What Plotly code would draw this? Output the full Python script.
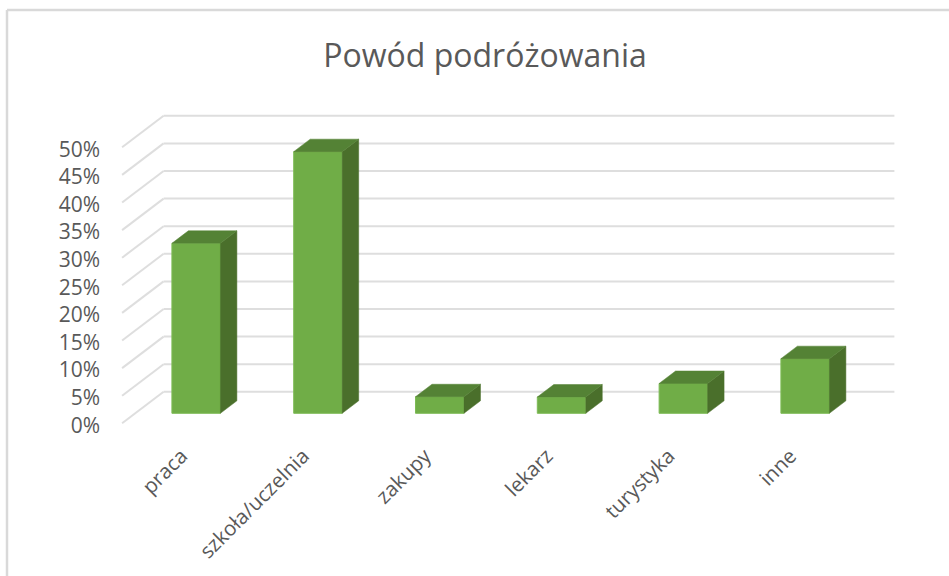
import plotly.graph_objects as go

# --- data -----------------------------------------------------------------
categories = ["praca", "szkoła/uczelnia", "zakupy", "lekarz", "turystyka", "inne"]
values = [30.8, 47.4, 3.0, 2.95, 5.4, 9.9]
y_ticks = [0, 5, 10, 15, 20, 25, 30, 35, 40, 45, 50]
y_labels = ["0%", "5%", "10%", "15%", "20%", "25%", "30%", "35%", "40%", "45%", "50%"]
title_text = "Powód podróżowania"

# --- oblique projection, in axis units ------------------------------------
FRONT = "#70AD47"
SIDE = "#4A6F2B"
TOP = "#548235"
GRID = "#DEDEDE"
TEXT = "#595959"
FONT = "Open Sans"

W, H = 949, 576
L, R, T, B = 104, 900, 100, 439      # plot area in page pixels
X0_PX, X_STEP = 183.0, 121.8         # pixel of category 0 / pixels per category
Y0_PX, Y_STEP = 423.3, 5.52          # pixel of 0% / pixels per percent

DEPTH_X = 41.5 / X_STEP              # full floor depth, in category units
DEPTH_Y = 31.5 / Y_STEP              # full floor depth, in percent units
BAR_D0, BAR_D1 = 0.317, 0.714        # bar front / back, as fraction of floor depth
BAR_W = 48.5 / X_STEP
X_LABEL_NUDGE = 1.5 / X_STEP         # tick labels sit slightly left of the category centre
Y_LABEL_NUDGE = 2.0 / Y_STEP         # and slightly below the gridline ends


def project(x, v, d):
    return x + d * DEPTH_X, v + d * DEPTH_Y


x_range = [(L - X0_PX) / X_STEP, (R - X0_PX) / X_STEP]
y_range = [(Y0_PX - B) / Y_STEP, (Y0_PX - T) / Y_STEP]
left_edge, right_edge = -0.5, len(categories) - 0.5

fig = go.Figure()
positions = list(range(len(categories)))

# front faces, through the library's bar trace
front_x = [project(i, 0, BAR_D0)[0] for i in positions]
base = project(0, 0, BAR_D0)[1]
fig.add_trace(go.Bar(
    x=front_x, y=values, base=[base] * len(values), width=BAR_W,
    marker=dict(color=FRONT, line=dict(color="#7DBB55", width=1)),
    hovertemplate="%{customdata}: %{y}%<extra></extra>",
    customdata=categories, showlegend=False,
))

# side and top faces
for i, v in zip(positions, values):
    xl, xr = i - BAR_W / 2, i + BAR_W / 2
    corners_side = [project(xr, 0, BAR_D0), project(xr, 0, BAR_D1),
                    project(xr, v, BAR_D1), project(xr, v, BAR_D0)]
    corners_top = [project(xl, v, BAR_D0), project(xl, v, BAR_D1),
                   project(xr, v, BAR_D1), project(xr, v, BAR_D0)]
    for corners, color in ((corners_side, SIDE), (corners_top, TOP)):
        xs, ys = zip(*corners)
        fig.add_trace(go.Scatter(
            x=list(xs) + [xs[0]], y=list(ys) + [ys[0]],
            mode="lines", fill="toself", fillcolor=color,
            line=dict(color=color, width=0.5),
            hoverinfo="skip", showlegend=False,
        ))

# wall and floor gridlines, drawn under the bars
shapes = []
for t in y_ticks:
    xa, ya = project(left_edge, t, 0)
    xb, yb = project(left_edge, t, 1)
    xc, yc = project(right_edge, t, 1)
    for (x0, y0, x1, y1) in ((xa, ya, xb, yb), (xb, yb, xc, yc)):
        shapes.append(dict(type="line", xref="x", yref="y", layer="below",
                           x0=x0, y0=y0, x1=x1, y1=y1,
                           line=dict(color=GRID, width=2)))

# chart frame: runs off the right and bottom of the picture
px = lambda p: (p - L) / (R - L)
py = lambda p: (B - p) / (B - T)
for (x0, y0, x1, y1) in ((7, 10, W + 5, 10), (7, 10, 7, H + 5)):
    shapes.append(dict(type="line", xref="paper", yref="paper", layer="below",
                       x0=px(x0), y0=py(y0), x1=px(x1), y1=py(y1),
                       line=dict(color="#D9D9D9", width=2.5)))

fig.update_layout(
    width=W, height=H,
    margin=dict(l=L, r=W - R, t=T, b=H - B, pad=0),
    paper_bgcolor="white", plot_bgcolor="rgba(0,0,0,0)",
    font=dict(family=FONT, color=TEXT),
    title=dict(text=title_text, x=485 / W, xanchor="center", xref="container",
               y=1 - 56 / H, yanchor="middle", yref="container",
               font=dict(family=FONT, size=32, color=TEXT)),
    xaxis=dict(range=x_range, tickmode="array",
               tickvals=[p - X_LABEL_NUDGE for p in positions], ticktext=categories,
               tickangle=-45, showgrid=False, zeroline=False, showline=False, ticks="",
               tickfont=dict(family=FONT, size=20.5, color=TEXT)),
    yaxis=dict(range=y_range, tickmode="array",
               tickvals=[t - Y_LABEL_NUDGE for t in y_ticks], ticktext=y_labels,
               showgrid=False, zeroline=False, showline=False, ticks="",
               ticklabelstandoff=3,
               tickfont=dict(family=FONT, size=21, color=TEXT)),
    shapes=shapes,
    showlegend=False,
)

fig.write_html("out.html", config={"displayModeBar": False},
               post_script="document.body.style.margin='0';document.body.style.overflow='hidden';")
